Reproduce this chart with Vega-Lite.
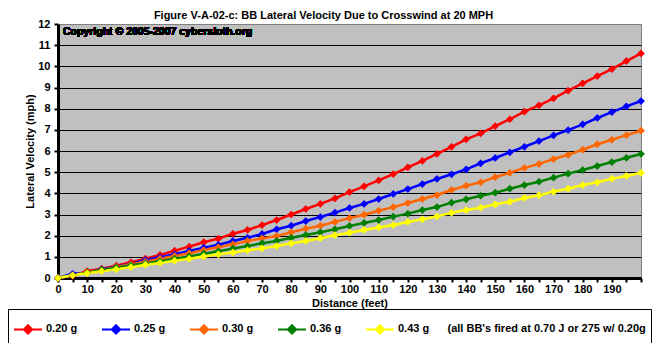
{
  "$schema": "https://vega.github.io/schema/vega-lite/v6.json",
  "autosize": "none",
  "width": 583,
  "height": 254,
  "padding": {"left": 58, "top": 24, "right": 16, "bottom": 65},
  "background": "white",
  "title": {
    "text": "Figure V-A-02-c:  BB Lateral Velocity Due to Crosswind at 20 MPH",
    "font": "Liberation Sans", "fontSize": 11, "fontWeight": "bold", "color": "black",
    "anchor": "middle", "dx": -26, "dy": 14, "offset": 0, "baseline": "bottom"
  },
  "config": {
    "view": {"fill": "#C0C0C0", "stroke": "#808080", "strokeWidth": 1},
    "axis": {
      "labelFont": "Liberation Sans", "labelFontWeight": "bold", "labelFontSize": 11, "labelColor": "black",
      "titleFont": "Liberation Sans", "titleFontWeight": "bold", "titleFontSize": 11, "titleColor": "black",
      "domainColor": "black", "domainWidth": 3, "tickColor": "black", "tickWidth": 2, "labelOverlap": false
    }
  },
  "data": {"values": [
    {"d":0,"m":"0.20 g","v":0},{"d":5,"m":"0.20 g","v":0.1},{"d":10,"m":"0.20 g","v":0.33},{"d":15,"m":"0.20 g","v":0.44},{"d":20,"m":"0.20 g","v":0.58},{"d":25,"m":"0.20 g","v":0.74},{"d":30,"m":"0.20 g","v":0.91},{"d":35,"m":"0.20 g","v":1.09},{"d":40,"m":"0.20 g","v":1.29},{"d":45,"m":"0.20 g","v":1.48},{"d":50,"m":"0.20 g","v":1.69},{"d":55,"m":"0.20 g","v":1.86},{"d":60,"m":"0.20 g","v":2.09},{"d":65,"m":"0.20 g","v":2.27},{"d":70,"m":"0.20 g","v":2.5},{"d":75,"m":"0.20 g","v":2.74},{"d":80,"m":"0.20 g","v":3.0},{"d":85,"m":"0.20 g","v":3.26},{"d":90,"m":"0.20 g","v":3.5},{"d":95,"m":"0.20 g","v":3.76},{"d":100,"m":"0.20 g","v":4.06},{"d":105,"m":"0.20 g","v":4.33},{"d":110,"m":"0.20 g","v":4.61},{"d":115,"m":"0.20 g","v":4.91},{"d":120,"m":"0.20 g","v":5.23},{"d":125,"m":"0.20 g","v":5.53},{"d":130,"m":"0.20 g","v":5.86},{"d":135,"m":"0.20 g","v":6.2},{"d":140,"m":"0.20 g","v":6.55},{"d":145,"m":"0.20 g","v":6.83},{"d":150,"m":"0.20 g","v":7.18},{"d":155,"m":"0.20 g","v":7.5},{"d":160,"m":"0.20 g","v":7.86},{"d":165,"m":"0.20 g","v":8.16},{"d":170,"m":"0.20 g","v":8.49},{"d":175,"m":"0.20 g","v":8.85},{"d":180,"m":"0.20 g","v":9.2},{"d":185,"m":"0.20 g","v":9.54},{"d":190,"m":"0.20 g","v":9.87},{"d":195,"m":"0.20 g","v":10.25},{"d":200,"m":"0.20 g","v":10.61},
    {"d":0,"m":"0.25 g","v":0},{"d":5,"m":"0.25 g","v":0.2},{"d":10,"m":"0.25 g","v":0.25},{"d":15,"m":"0.25 g","v":0.41},{"d":20,"m":"0.25 g","v":0.53},{"d":25,"m":"0.25 g","v":0.66},{"d":30,"m":"0.25 g","v":0.85},{"d":35,"m":"0.25 g","v":0.98},{"d":40,"m":"0.25 g","v":1.12},{"d":45,"m":"0.25 g","v":1.28},{"d":50,"m":"0.25 g","v":1.43},{"d":55,"m":"0.25 g","v":1.57},{"d":60,"m":"0.25 g","v":1.75},{"d":65,"m":"0.25 g","v":1.9},{"d":70,"m":"0.25 g","v":2.08},{"d":75,"m":"0.25 g","v":2.3},{"d":80,"m":"0.25 g","v":2.47},{"d":85,"m":"0.25 g","v":2.69},{"d":90,"m":"0.25 g","v":2.88},{"d":95,"m":"0.25 g","v":3.09},{"d":100,"m":"0.25 g","v":3.31},{"d":105,"m":"0.25 g","v":3.5},{"d":110,"m":"0.25 g","v":3.73},{"d":115,"m":"0.25 g","v":3.97},{"d":120,"m":"0.25 g","v":4.2},{"d":125,"m":"0.25 g","v":4.44},{"d":130,"m":"0.25 g","v":4.68},{"d":135,"m":"0.25 g","v":4.9},{"d":140,"m":"0.25 g","v":5.13},{"d":145,"m":"0.25 g","v":5.42},{"d":150,"m":"0.25 g","v":5.67},{"d":155,"m":"0.25 g","v":5.94},{"d":160,"m":"0.25 g","v":6.2},{"d":165,"m":"0.25 g","v":6.47},{"d":170,"m":"0.25 g","v":6.74},{"d":175,"m":"0.25 g","v":6.99},{"d":180,"m":"0.25 g","v":7.26},{"d":185,"m":"0.25 g","v":7.56},{"d":190,"m":"0.25 g","v":7.84},{"d":195,"m":"0.25 g","v":8.11},{"d":200,"m":"0.25 g","v":8.36},
    {"d":0,"m":"0.30 g","v":0},{"d":5,"m":"0.30 g","v":0.13},{"d":10,"m":"0.30 g","v":0.28},{"d":15,"m":"0.30 g","v":0.38},{"d":20,"m":"0.30 g","v":0.52},{"d":25,"m":"0.30 g","v":0.65},{"d":30,"m":"0.30 g","v":0.77},{"d":35,"m":"0.30 g","v":0.91},{"d":40,"m":"0.30 g","v":1.04},{"d":45,"m":"0.30 g","v":1.17},{"d":50,"m":"0.30 g","v":1.32},{"d":55,"m":"0.30 g","v":1.45},{"d":60,"m":"0.30 g","v":1.59},{"d":65,"m":"0.30 g","v":1.75},{"d":70,"m":"0.30 g","v":1.87},{"d":75,"m":"0.30 g","v":1.98},{"d":80,"m":"0.30 g","v":2.16},{"d":85,"m":"0.30 g","v":2.33},{"d":90,"m":"0.30 g","v":2.47},{"d":95,"m":"0.30 g","v":2.65},{"d":100,"m":"0.30 g","v":2.83},{"d":105,"m":"0.30 g","v":2.99},{"d":110,"m":"0.30 g","v":3.18},{"d":115,"m":"0.30 g","v":3.35},{"d":120,"m":"0.30 g","v":3.54},{"d":125,"m":"0.30 g","v":3.73},{"d":130,"m":"0.30 g","v":3.92},{"d":135,"m":"0.30 g","v":4.16},{"d":140,"m":"0.30 g","v":4.36},{"d":145,"m":"0.30 g","v":4.52},{"d":150,"m":"0.30 g","v":4.76},{"d":155,"m":"0.30 g","v":4.97},{"d":160,"m":"0.30 g","v":5.2},{"d":165,"m":"0.30 g","v":5.39},{"d":170,"m":"0.30 g","v":5.62},{"d":175,"m":"0.30 g","v":5.82},{"d":180,"m":"0.30 g","v":6.06},{"d":185,"m":"0.30 g","v":6.32},{"d":190,"m":"0.30 g","v":6.53},{"d":195,"m":"0.30 g","v":6.75},{"d":200,"m":"0.30 g","v":6.96},
    {"d":0,"m":"0.36 g","v":0},{"d":5,"m":"0.36 g","v":0.13},{"d":10,"m":"0.36 g","v":0.25},{"d":15,"m":"0.36 g","v":0.38},{"d":20,"m":"0.36 g","v":0.49},{"d":25,"m":"0.36 g","v":0.6},{"d":30,"m":"0.36 g","v":0.69},{"d":35,"m":"0.36 g","v":0.79},{"d":40,"m":"0.36 g","v":0.91},{"d":45,"m":"0.36 g","v":1.02},{"d":50,"m":"0.36 g","v":1.15},{"d":55,"m":"0.36 g","v":1.26},{"d":60,"m":"0.36 g","v":1.39},{"d":65,"m":"0.36 g","v":1.51},{"d":70,"m":"0.36 g","v":1.64},{"d":75,"m":"0.36 g","v":1.75},{"d":80,"m":"0.36 g","v":1.9},{"d":85,"m":"0.36 g","v":2.03},{"d":90,"m":"0.36 g","v":2.16},{"d":95,"m":"0.36 g","v":2.3},{"d":100,"m":"0.36 g","v":2.46},{"d":105,"m":"0.36 g","v":2.6},{"d":110,"m":"0.36 g","v":2.74},{"d":115,"m":"0.36 g","v":2.9},{"d":120,"m":"0.36 g","v":3.04},{"d":125,"m":"0.36 g","v":3.21},{"d":130,"m":"0.36 g","v":3.35},{"d":135,"m":"0.36 g","v":3.56},{"d":140,"m":"0.36 g","v":3.72},{"d":145,"m":"0.36 g","v":3.89},{"d":150,"m":"0.36 g","v":4.03},{"d":155,"m":"0.36 g","v":4.22},{"d":160,"m":"0.36 g","v":4.39},{"d":165,"m":"0.36 g","v":4.55},{"d":170,"m":"0.36 g","v":4.74},{"d":175,"m":"0.36 g","v":4.93},{"d":180,"m":"0.36 g","v":5.1},{"d":185,"m":"0.36 g","v":5.29},{"d":190,"m":"0.36 g","v":5.48},{"d":195,"m":"0.36 g","v":5.68},{"d":200,"m":"0.36 g","v":5.86},
    {"d":0,"m":"0.43 g","v":0},{"d":5,"m":"0.43 g","v":0.13},{"d":10,"m":"0.43 g","v":0.22},{"d":15,"m":"0.43 g","v":0.32},{"d":20,"m":"0.43 g","v":0.41},{"d":25,"m":"0.43 g","v":0.51},{"d":30,"m":"0.43 g","v":0.63},{"d":35,"m":"0.43 g","v":0.71},{"d":40,"m":"0.43 g","v":0.82},{"d":45,"m":"0.43 g","v":0.91},{"d":50,"m":"0.43 g","v":1.02},{"d":55,"m":"0.43 g","v":1.12},{"d":60,"m":"0.43 g","v":1.21},{"d":65,"m":"0.43 g","v":1.31},{"d":70,"m":"0.43 g","v":1.4},{"d":75,"m":"0.43 g","v":1.51},{"d":80,"m":"0.43 g","v":1.64},{"d":85,"m":"0.43 g","v":1.75},{"d":90,"m":"0.43 g","v":1.88},{"d":95,"m":"0.43 g","v":2.02},{"d":100,"m":"0.43 g","v":2.14},{"d":105,"m":"0.43 g","v":2.27},{"d":110,"m":"0.43 g","v":2.39},{"d":115,"m":"0.43 g","v":2.5},{"d":120,"m":"0.43 g","v":2.65},{"d":125,"m":"0.43 g","v":2.77},{"d":130,"m":"0.43 g","v":2.91},{"d":135,"m":"0.43 g","v":3.08},{"d":140,"m":"0.43 g","v":3.21},{"d":145,"m":"0.43 g","v":3.32},{"d":150,"m":"0.43 g","v":3.48},{"d":155,"m":"0.43 g","v":3.6},{"d":160,"m":"0.43 g","v":3.78},{"d":165,"m":"0.43 g","v":3.91},{"d":170,"m":"0.43 g","v":4.08},{"d":175,"m":"0.43 g","v":4.22},{"d":180,"m":"0.43 g","v":4.39},{"d":185,"m":"0.43 g","v":4.52},{"d":190,"m":"0.43 g","v":4.69},{"d":195,"m":"0.43 g","v":4.82},{"d":200,"m":"0.43 g","v":4.97}
  ]},
  "layer": [
    {
      "mark": {"type": "line", "strokeWidth": 2.5, "point": {"filled": true, "shape": "diamond", "size": 60}},
      "encoding": {
        "x": {"field": "d", "type": "quantitative", "scale": {"domain": [0, 200], "nice": false},
          "axis": {"title": "Distance (feet)", "values": [0,5,10,15,20,25,30,35,40,45,50,55,60,65,70,75,80,85,90,95,100,105,110,115,120,125,130,135,140,145,150,155,160,165,170,175,180,185,190,195,200],
            "labelExpr": "datum.value % 10 == 0 && datum.value < 200 ? datum.label : ''",
            "grid": false, "tickSize": 4, "labelPadding": 1, "labelFlush": false, "labelOverlap": false, "titlePadding": 3}},
        "y": {"field": "v", "type": "quantitative", "scale": {"domain": [0, 12], "nice": false},
          "axis": {"title": "Lateral Velocity (mph)", "values": [0,1,2,3,4,5,6,7,8,9,10,11,12],
            "grid": true, "gridColor": {"condition": {"test": "datum.value == 12", "value": "#808080"}, "value": "black"}, "gridWidth": 1,
            "tickSize": 4, "labelPadding": 4, "titlePadding": 2, "labelFlush": false, "labelOverlap": false}},
        "color": {"field": "m", "type": "nominal",
          "scale": {"domain": ["0.20 g", "0.25 g", "0.30 g", "0.36 g", "0.43 g"], "range": ["#FF0000", "#0000FF", "#FF6600", "#008000", "#FFFF00"]},
          "legend": {
            "orient": "none", "legendX": -50, "legendY": 285, "direction": "horizontal", "title": null,
            "symbolType": "M-1,0H1M0,-0.3L0.3,0L0,0.3L-0.3,0Z", "symbolSize": 784, "symbolStrokeWidth": 2,
            "labelFont": "Liberation Sans", "labelFontWeight": "bold", "labelFontSize": 11, "labelColor": "black",
            "labelOffset": 3, "columnPadding": 20, "labelLimit": 400,
            "strokeColor": "black", "fillColor": "white", "padding": 5,
            "labelExpr": "datum.label == '0.43 g' ? \"0.43 g\u00a0\u00a0\u00a0\u00a0\u00a0\u00a0(all BB's fired at 0.70 J or 275 w/ 0.20g\" : datum.label",
            "encode": {"symbols": {"update": {"fill": {"scale": "color", "field": "value"}, "fillOpacity": {"value": 1}}}}
          }
        }
      }
    },
    {
      "mark": {"type": "text", "align": "left", "baseline": "top", "dx": 5, "dy": 3, "font": "Liberation Sans", "fontSize": 10.5, "fontWeight": "bold", "color": "black"},
      "encoding": {
        "x": {"datum": 0, "type": "quantitative",
          "axis": {"title": "Distance (feet)", "values": [0,5,10,15,20,25,30,35,40,45,50,55,60,65,70,75,80,85,90,95,100,105,110,115,120,125,130,135,140,145,150,155,160,165,170,175,180,185,190,195,200],
            "labelExpr": "datum.value % 10 == 0 && datum.value < 200 ? datum.label : ''",
            "grid": false, "tickSize": 4, "labelPadding": 1, "labelFlush": false, "labelOverlap": false, "titlePadding": 3}},
        "y": {"datum": 12, "type": "quantitative",
          "axis": {"title": "Lateral Velocity (mph)", "values": [0,1,2,3,4,5,6,7,8,9,10,11,12],
            "grid": true, "gridColor": {"condition": {"test": "datum.value == 12", "value": "#808080"}, "value": "black"}, "gridWidth": 1,
            "tickSize": 4, "labelPadding": 4, "titlePadding": 2, "labelFlush": false, "labelOverlap": false}},
        "text": {"value": "Copyright © 2005-2007 cybersloth.org"}
      }
    }
  ]
}
